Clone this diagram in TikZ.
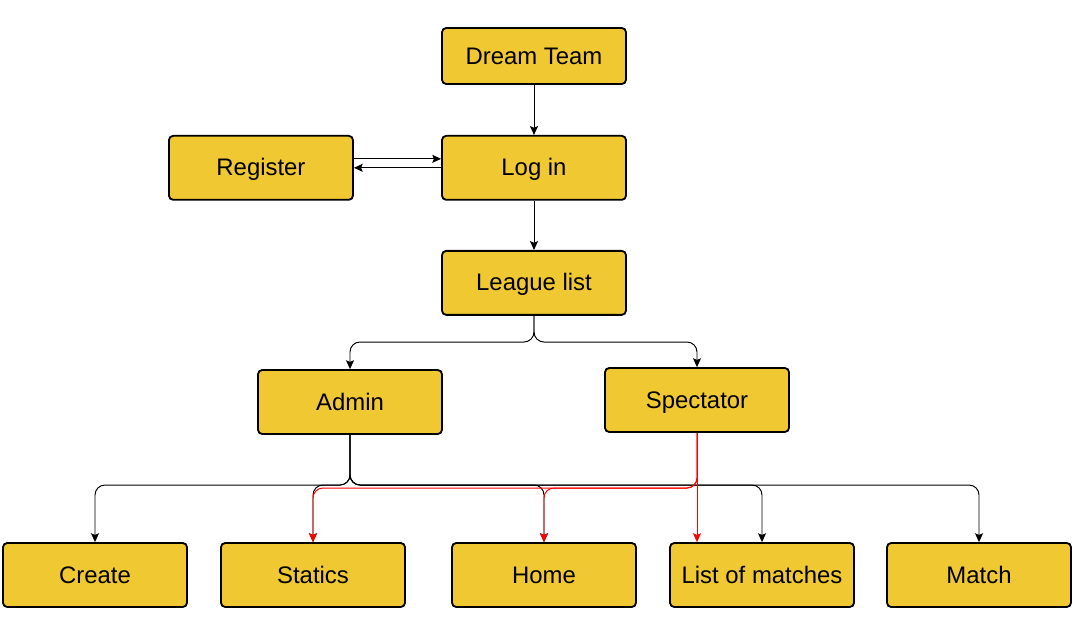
\documentclass[tikz,border=0pt]{standalone}
\usepackage{fontspec}
\setmainfont{Liberation Sans}
\usepackage{tikz}
\usetikzlibrary{positioning,arrows.meta,calc}
\usepackage{xcolor}
\definecolor{dtyellow}{HTML}{F0C832}
\definecolor{dtred}{HTML}{FF0000}

\begin{document}
\begin{tikzpicture}[
    box/.style={draw, line width=1.3pt, fill=dtyellow, minimum width=4.6cm, minimum height=1.6cm, align=center, rounded corners=3pt, text height=12pt, text depth=0.5pt, font=\fontsize{17}{20}\selectfont},
    arrow/.style={-{Stealth[length=2.2mm, width=2mm, inset=0.4mm]}, line width=0.7pt, rounded corners=0.25cm},
    redarrow/.style={arrow, dtred},
]
\useasboundingbox (0,0) rectangle (26.975,-15.575);

\node[box, minimum height=1.4cm] (dream) at (13.35,-1.4) {Dream Team};
\node[box, below=1.25 of dream] (login) {Log in};
\node[box, left=2.18 of login] (register) {Register};
\node[box, below=1.23 of login] (league) {League list};
\node[box] (admin) at (8.75,-10.05) {Admin};
\node[box] (spectator) at (17.425,-10.0) {Spectator};

\node[box] (create) at (2.375,-14.375) {Create};
\node[box] (statics) at (7.825,-14.375) {Statics};
\node[box] (home) at (13.6,-14.375) {Home};
\node[box] (matches) at (19.05,-14.375) {List of matches};
\node[box] (match) at (24.475,-14.375) {Match};

\coordinate (lbus) at (0,-8.55);
\coordinate (abus) at (0,-12.125);
\coordinate (sbus) at (0,-12.2);

\draw[arrow] (dream) -- (login);
\draw[arrow] ([yshift=0.225cm]register.east) -- ([yshift=0.225cm]login.west);
\draw[arrow] (login.west) -- (register.east);
\draw[arrow] (login) -- (league);
\draw[arrow] (league.south) -- (league.south |- lbus) -| (admin.north);
\draw[arrow] (league.south) -- (league.south |- lbus) -| (spectator.north);

% admin to all pages
\foreach \page in {create,statics,home,matches,match}
  \draw[arrow] (admin.south) -- (admin.south |- abus) -| (\page.north);

% spectator pages
\draw[redarrow] (spectator.south) -- (spectator.south |- sbus) -| (statics.north);
\draw[redarrow] (spectator.south) -- (spectator.south |- sbus) -| (home.north);
\draw[redarrow] (spectator.south) -- (spectator.south |- matches.north);
\end{tikzpicture}
\end{document}
